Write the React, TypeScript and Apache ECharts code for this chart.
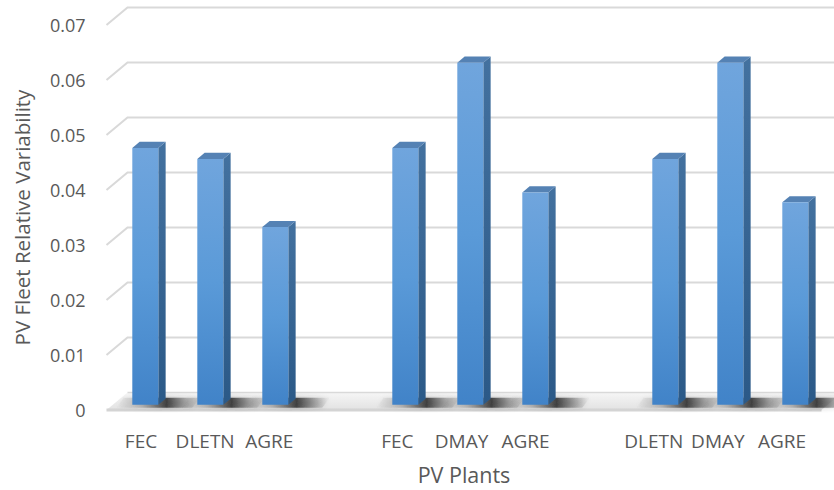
import React, { useEffect, useRef } from "react";
import * as echarts from "echarts";

// PV plant groups (blank entries separate the three comparisons)
const categories = ["FEC", "DLETN", "AGRE", "", "FEC", "DMAY", "AGRE", "", "DLETN", "DMAY", "AGRE"];
const variability: (number | null)[] = [0.0467, 0.0447, 0.0323, null, 0.0467, 0.0622, 0.0386, null, 0.0447, 0.0622, 0.0368];
const yTicks = [0, 0.01, 0.02, 0.03, 0.04, 0.05, 0.06, 0.07];

const TEXT = "#595959";
const FONT = "Open Sans";

// oblique projection of depth (0 = front edge of floor, 1 = back wall)
const DX = 21;
const DY = -17.5;
const BAR_D0 = 0.3;
const BAR_D1 = 0.65;

function wallItem(params: any, api: any) {
  const cs = params.coordSys;
  const v = api.value(1);
  const y = api.coord([0, v])[1];
  const xl = cs.x;
  const xr = cs.x + cs.width;
  if (v === 0) {
    return {
      type: "group",
      children: [
        {
          type: "polygon",
          shape: { points: [[xl, y], [xr, y], [xr + DX, y + DY], [xl + DX, y + DY]] },
          style: {
            fill: new echarts.graphic.LinearGradient(0, 0, 0, 1, [
              { offset: 0, color: "#f6f6f6" },
              { offset: 1, color: "#e2e2e2" },
            ]),
          },
        },
        {
          type: "line",
          shape: { x1: xl + DX, y1: y + DY, x2: xr + DX, y2: y + DY },
          style: { stroke: "#d9d9d9", lineWidth: 1.5 },
        },
        {
          type: "line",
          shape: { x1: xl, y1: y, x2: xr, y2: y },
          style: { stroke: "#d4d4d4", lineWidth: 3 },
        },
      ],
    };
  }
  return {
    type: "polyline",
    shape: { points: [[xl, y], [xl + DX, y + DY], [xr + DX, y + DY]] },
    style: { stroke: "#d9d9d9", lineWidth: 2, fill: null },
  };
}

function shadowItem(params: any, api: any) {
  const idx = api.value(0);
  const base = api.coord([idx, 0]);
  const w = api.size([1, 0])[0] * 0.4;
  const x0 = base[0] - w / 2 + DX * BAR_D0;
  const x1 = x0 + w;
  const yb = base[1] + DY * BAR_D0;
  const sx = DX * (BAR_D1 - BAR_D0);
  const sy = DY * (BAR_D1 - BAR_D0);
  const xa = x0 - 16;
  const xb = x1 + 34;
  const mid = (x1 + sx * 0.5 - xa) / (xb - xa);
  return {
    type: "polygon",
    shape: {
      points: [
        [xa, yb + 3],
        [xb, yb + 3],
        [xb + sx, yb + sy - 1],
        [xa + sx, yb + sy - 1],
      ],
    },
    style: {
      fill: new echarts.graphic.LinearGradient(0, 0, 1, 0, [
        { offset: 0, color: "rgba(90,90,90,0)" },
        { offset: mid * 0.5, color: "rgba(90,90,90,0.3)" },
        { offset: mid, color: "rgba(35,35,35,0.8)" },
        { offset: 1, color: "rgba(90,90,90,0)" },
      ]),
      shadowBlur: 5,
      shadowColor: "rgba(60,60,60,0.45)",
    },
  };
}

function barItem(params: any, api: any) {
  const idx = api.value(0);
  const v = api.value(1);
  const base = api.coord([idx, 0]);
  const top = api.coord([idx, v]);
  const w = api.size([1, 0])[0] * 0.4;
  const x0 = base[0] - w / 2 + DX * BAR_D0;
  const x1 = x0 + w;
  const yb = base[1] + DY * BAR_D0;
  const yt = top[1] + DY * BAR_D0;
  const sx = DX * (BAR_D1 - BAR_D0);
  const sy = DY * (BAR_D1 - BAR_D0);
  return {
    type: "group",
    children: [
      {
        type: "polygon",
        shape: { points: [[x1, yt], [x1 + sx, yt + sy], [x1 + sx, yb + sy], [x1, yb]] },
        style: {
          fill: new echarts.graphic.LinearGradient(0, 0, 0, 1, [
            { offset: 0, color: "#43719f" },
            { offset: 1, color: "#2b5987" },
          ]),
        },
      },
      {
        type: "polygon",
        shape: { points: [[x0, yt], [x1, yt], [x1 + sx, yt + sy], [x0 + sx, yt + sy]] },
        style: { fill: "#5582b4" },
      },
      {
        type: "rect",
        shape: { x: x0, y: yt, width: w, height: yb - yt },
        style: {
          fill: new echarts.graphic.LinearGradient(0, 0, 0, 1, [
            { offset: 0, color: "#70a5dd" },
            { offset: 0.5, color: "#5a9ad8" },
            { offset: 1, color: "#4183c8" },
          ]),
        },
      },
    ],
  };
}

export default function App() {
  const ref = useRef<HTMLDivElement>(null);

  useEffect(() => {
    if (!ref.current) return;
    const chart = echarts.init(ref.current, null, { renderer: "svg" });
    const barData = variability
      .map((v, i) => (v == null ? null : [i, v]))
      .filter((d) => d !== null);

    chart.setOption({
      animation: false,
      backgroundColor: "#ffffff",
      grid: [
        // plotting plane (front of the floor)
        { left: 106.5, right: 12.5, top: 25, bottom: 78, containLabel: false },
        // category labels sit along the foreshortened front edge
        { left: 109, right: 20, top: 25, bottom: 78, containLabel: false },
      ],
      xAxis: [
        {
          type: "category",
          data: categories,
          gridIndex: 0,
          axisLine: { show: false },
          axisTick: { show: false },
          axisLabel: { show: false },
          name: "PV Plants",
          nameLocation: "middle",
          nameGap: 53,
          nameTextStyle: { color: TEXT, fontFamily: FONT, fontSize: 21.5 },
        },
        {
          type: "category",
          data: categories,
          gridIndex: 1,
          axisLine: { show: false },
          axisTick: { show: false },
          axisLabel: {
            interval: 0,
            margin: 19,
            color: TEXT,
            fontFamily: FONT,
            fontSize: 19,
          },
        },
      ],
      yAxis: [
        {
          type: "value",
          gridIndex: 0,
          min: 0,
          max: 0.07,
          interval: 0.01,
          axisLine: { show: false },
          axisTick: { show: false },
          splitLine: { show: false },
          axisLabel: {
            margin: 21,
            color: TEXT,
            fontFamily: FONT,
            fontSize: 18,
          },
          name: "PV Fleet Relative Variability",
          nameLocation: "middle",
          nameGap: 74,
          nameTextStyle: { color: TEXT, fontFamily: FONT, fontSize: 20.5 },
        },
        {
          type: "value",
          gridIndex: 1,
          min: 0,
          max: 0.07,
          interval: 0.01,
          show: false,
        },
      ],
      series: [
        {
          type: "custom",
          name: "wall",
          z: 1,
          silent: true,
          clip: false,
          renderItem: wallItem,
          data: yTicks.map((t) => [0, t]),
        },
        {
          type: "custom",
          name: "shadow",
          z: 2,
          silent: true,
          clip: false,
          renderItem: shadowItem,
          data: barData,
        },
        {
          type: "custom",
          name: "PV Fleet Relative Variability",
          z: 3,
          clip: false,
          renderItem: barItem,
          data: barData,
        },
      ],
    });
    return () => chart.dispose();
  }, []);

  return (
    <div
      ref={ref}
      style={{ position: "fixed", left: 0, top: 0, width: 834, height: 490, background: "#fff" }}
    />
  );
}
